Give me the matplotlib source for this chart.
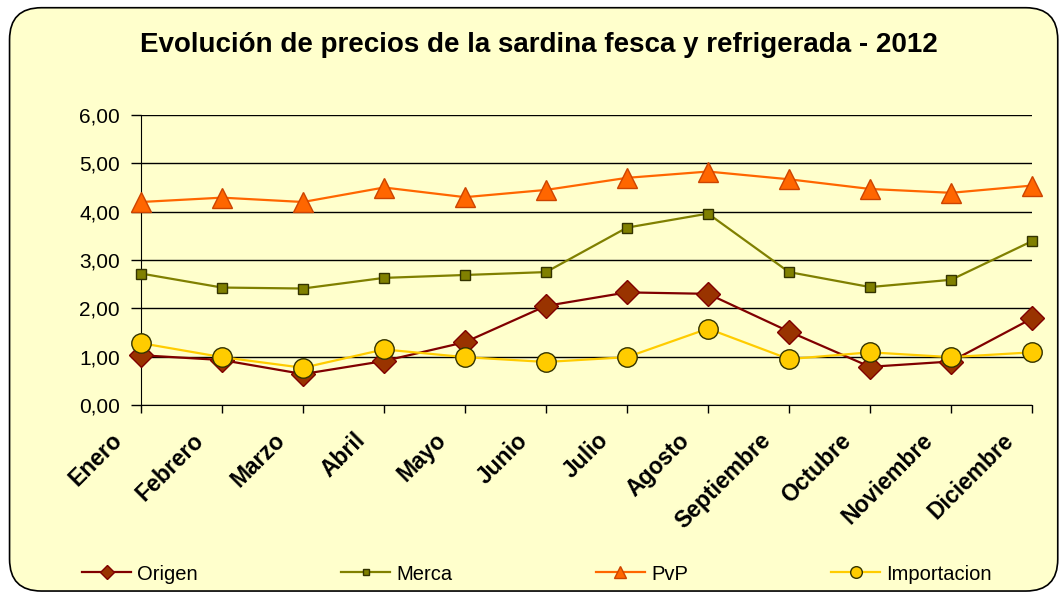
import matplotlib.pyplot as plt
from matplotlib.patches import FancyBboxPatch
from matplotlib.transforms import ScaledTranslation

# Data
meses = ['Enero', 'Febrero', 'Marzo', 'Abril', 'Mayo', 'Junio', 'Julio',
         'Agosto', 'Septiembre', 'Octubre', 'Noviembre', 'Diciembre']
origen = [1.03, 0.93, 0.64, 0.91, 1.30, 2.05, 2.33, 2.30, 1.52, 0.79, 0.90, 1.79]
merca = [2.72, 2.43, 2.41, 2.63, 2.69, 2.75, 3.67, 3.96, 2.75, 2.44, 2.59, 3.39]
pvp = [4.20, 4.29, 4.20, 4.50, 4.30, 4.45, 4.70, 4.83, 4.67, 4.47, 4.39, 4.54]
importacion = [1.28, 0.99, 0.77, 1.15, 0.99, 0.89, 0.99, 1.58, 0.95, 1.09, 0.99, 1.09]
y_ticks = [0, 1, 2, 3, 4, 5, 6]

bg = '#FFFFCC'
plt.rcParams['font.family'] = ['Liberation Sans', 'DejaVu Sans']

fig = plt.figure(figsize=(10.62, 5.94), dpi=100, facecolor='white')
# rounded frame around the chart
frame = FancyBboxPatch((0.009, 0.005), 0.987, 0.982, boxstyle='round,pad=0,rounding_size=0.03',
                       transform=fig.transFigure, facecolor=bg, edgecolor='black',
                       linewidth=1.2, mutation_aspect=1062 / 594, zorder=-5)
fig.patches.append(frame)

ax = fig.add_axes([141 / 1062, 1 - 405 / 594, (1032 - 141) / 1062, (405 - 115) / 594])
ax.set_facecolor(bg)

x = list(range(len(meses)))
ax.plot(x, origen, color='#800000', lw=1.6, marker='D', ms=12,
        mfc='#993300', mec='#800000', label='Origen', zorder=3, clip_on=False)
ax.plot(x, merca, color='#808000', lw=1.6, marker='s', ms=7,
        mfc='#808000', mec='#333300', label='Merca', zorder=3, clip_on=False)
ax.plot(x, pvp, color='#FF6600', lw=1.6, marker='^', ms=15,
        mfc='#FF6600', mec='#CC4400', label='PvP', zorder=3, clip_on=False)
ax.plot(x, importacion, color='#FFCC00', lw=1.6, marker='o', ms=14,
        mfc='#FFCC00', mec='#333300', label='Importacion', zorder=4, clip_on=False)

ax.set_xlim(0, 11)
ax.set_ylim(0, 6)
ax.set_yticks(y_ticks)
ax.set_yticklabels([f'{v:.2f}'.replace('.', ',') for v in y_ticks], fontsize=15)
ax.set_xticks(x)
ax.set_xticklabels(meses, rotation=45, ha='right', va='center', rotation_mode='anchor',
                   fontsize=16.5, fontweight='bold')
ax.tick_params(axis='y', direction='out', length=7.2, width=1, pad=8)
ax.tick_params(axis='x', direction='out', length=6, width=1, pad=17)
# Excel puts the rotated labels a bit left of their tick
shift = ScaledTranslation(-22 / 100, 0, fig.dpi_scale_trans)
for lbl in ax.get_xticklabels():
    lbl.set_transform(lbl.get_transform() + shift)
ax.grid(axis='y', color='black', lw=1)
ax.set_axisbelow(True)
for s in ['top', 'right']:
    ax.spines[s].set_visible(False)
for s in ['left', 'bottom']:
    ax.spines[s].set_color('black')

fig.text(539 / 1062, 1 - 45 / 594, 'Evolución de precios de la sardina fesca y refrigerada - 2012',
         ha='center', va='center', fontsize=20, fontweight='bold')

fig.legend(loc='center left', bbox_to_anchor=(82 / 1062, 1 - 574 / 594), ncol=4, frameon=False,
           fontsize=14.5, handlelength=2.44, columnspacing=7.12, handletextpad=0.3,
           borderpad=0, borderaxespad=0, markerscale=0.6)

fig.savefig('out.png', dpi=100, facecolor='white')
